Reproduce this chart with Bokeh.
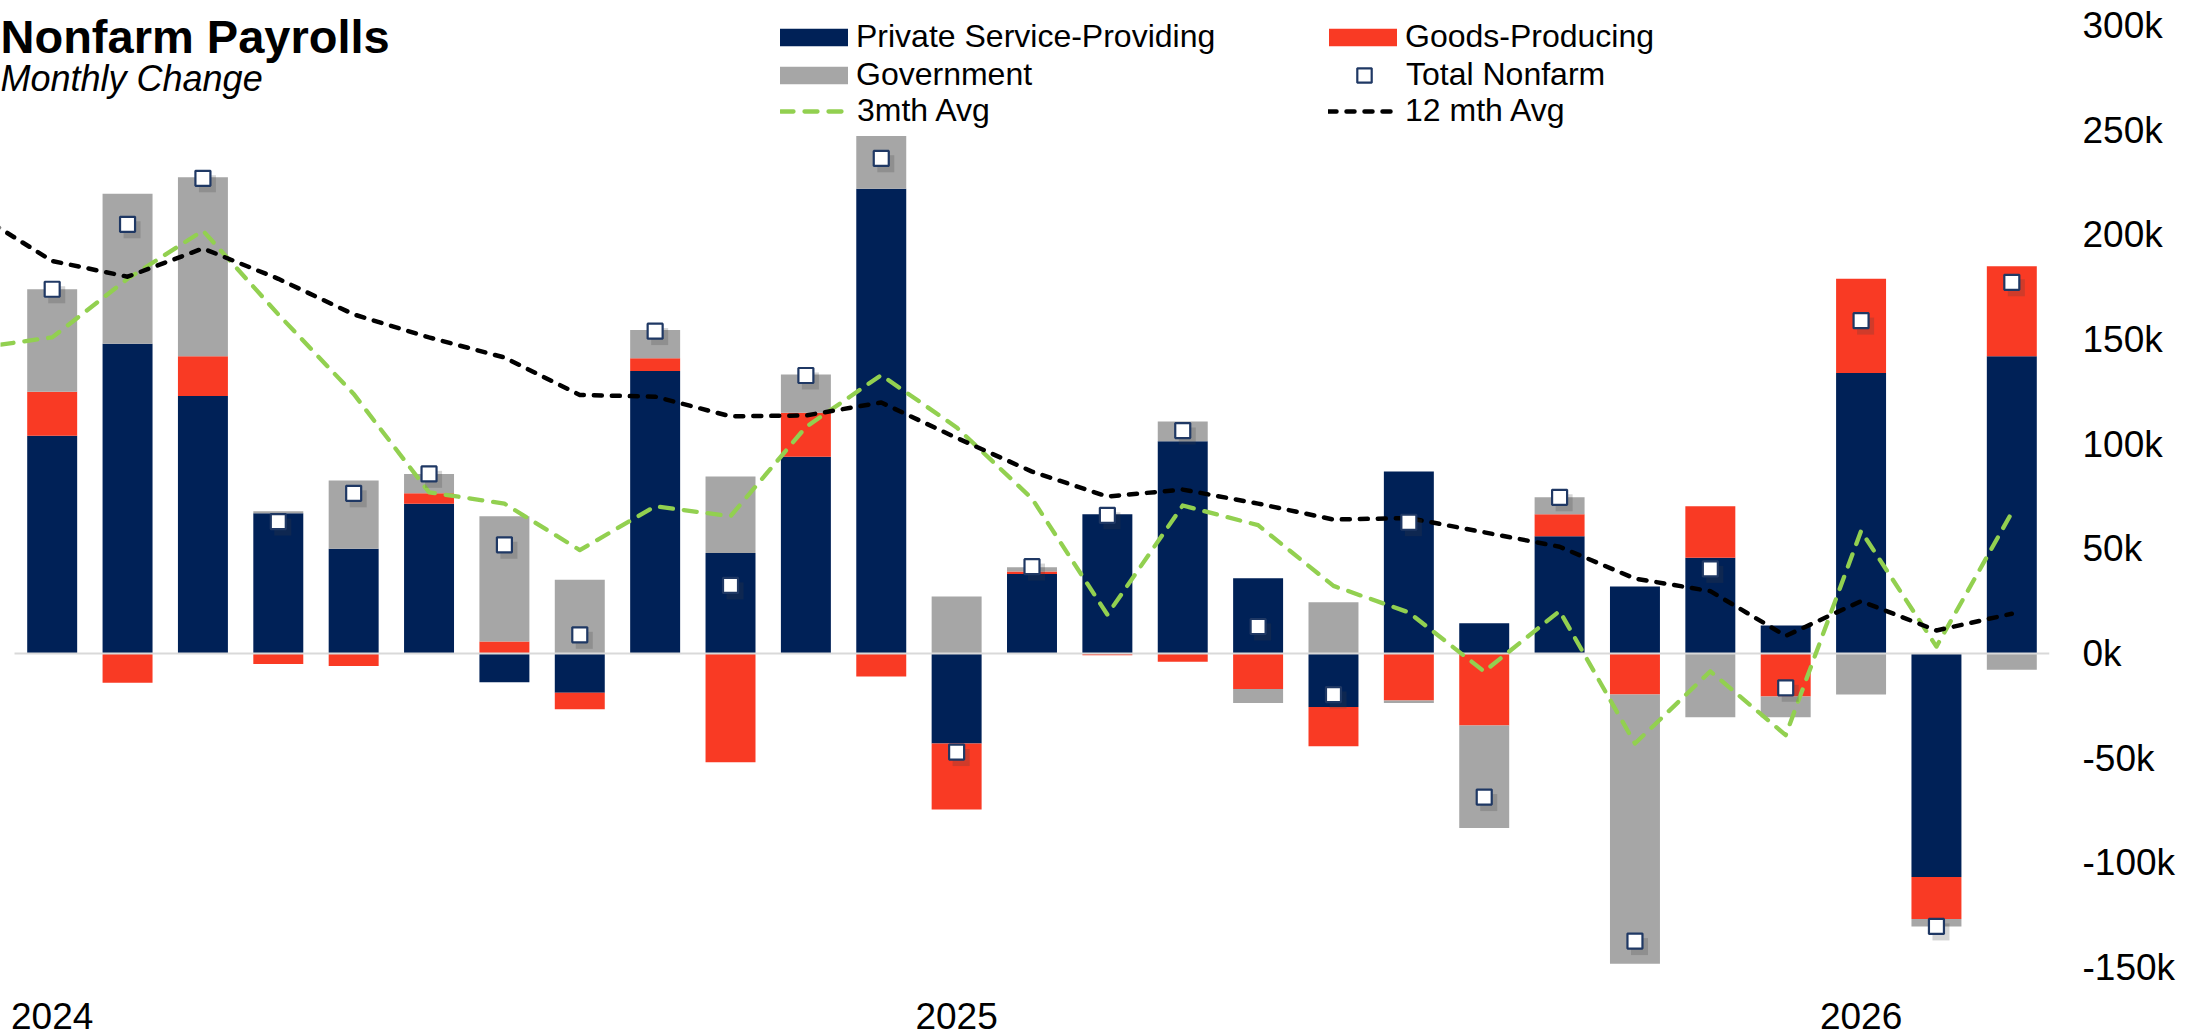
import numpy as np
from bokeh.plotting import figure
from bokeh.models import (ColumnDataSource, Range1d, FixedTicker, Label, LabelSet,
                          Legend, LegendItem)
from bokeh.core.properties import value
from bokeh.embed import file_html
from bokeh.resources import INLINE
from bokeh.transform import dodge

# ---------------- data (thousands of jobs, monthly change) ----------------
months = ["2024-01", "2024-02", "2024-03", "2024-04", "2024-05", "2024-06",
          "2024-07", "2024-08", "2024-09", "2024-10", "2024-11", "2024-12",
          "2025-01", "2025-02", "2025-03", "2025-04", "2025-05", "2025-06",
          "2025-07", "2025-08", "2025-09", "2025-10", "2025-11", "2025-12",
          "2026-01", "2026-02", "2026-03"]
private_service = [104, 148, 123, 67, 50, 71.5, -13.7, -18.8, 135, 48, 94, 222,
                   -43, 38, 66.5, 101.4, 36, -25.6, 87, 14.5, 56, 32, 45.7, 13.4,
                   134, -106.8, 142]
goods_producing = [21, -14, 19, -5, -6, 5, 5.7, -7.8, 6, -52, 21, -11,
                   -31.5, 1.2, -0.8, -4, -17, -18.7, -22.4, -34.4, 10.5, -19.6, 24.7, -20.5,
                   45, -20, 43]
government = [49, 71.6, 85.5, 1, 32.6, 9.3, 59.9, 35.2, 13.5, 36.6, 18.3, 25.2,
              27.2, 2, 0, 9.4, -6.7, 24.5, -1.2, -49, 8.2, -128.6, -30.4, -9.9,
              -19.6, -3.6, -7.8]
total_nonfarm = [174, 205, 227, 63, 76.5, 85.8, 51.9, 8.9, 154, 32.5, 132.8, 236.5,
                 -47.1, 41.5, 66, 106.5, 12.9, -19.6, 62.7, -68.6, 74.6, -137.4, 40.4, -16.4,
                 159, -130.4, 177.3]
# moving averages start one month earlier (Dec 2023), partly outside the view
line_months = ["2023-12"] + months
avg_3m = [146, 151, 179, 202, 162, 124, 77, 71.6, 49.4, 70.3, 65.6, 108.2,
          133, 108, 74, 18.6, 70.7, 61.3, 32.3, 19.6, -8.6, 20.3, -43, -8.5,
          -39, 58.5, 3.3, 67.3]
avg_12m = [210, 187.5, 180, 193.5, 179, 162, 151, 141.4, 123.5, 122.7, 113.3, 113.7,
           119.9, 103, 86.9, 75, 78.3, 71.6, 64, 64.7, 57.9, 51, 35.8, 29.8,
           8.4, 25, 11, 19]
year_ticks = [0, 12, 24]
year_labels = ["2024", "2025", "2026"]
y_ticks = [-150, -100, -50, 0, 50, 100, 150, 200, 250, 300]
y_tick_labels = ["-150k", "-100k", "-50k", "0k", "50k", "100k", "150k", "200k", "250k", "300k"]

# ---------------- styling ----------------
NAVY = "#002157"
RED = "#F93A24"
GRAY = "#A6A6A6"
GREEN = "#92D050"
MARKER_EDGE = "#1F3864"
FONT = "Liberation Sans"

x = np.arange(len(months))
lx = np.arange(-1, len(months))

# stacked bars: positives stack upward, negatives downward (Excel style)
vals = np.array([private_service, goods_producing, government], dtype=float)
pos = np.where(vals > 0, vals, 0.0)
neg = np.where(vals < 0, vals, 0.0)
pos_top = np.cumsum(pos, axis=0)
pos_bot = pos_top - pos
neg_bot = np.cumsum(neg, axis=0)
neg_top = neg_bot - neg
bottoms = np.where(vals >= 0, pos_bot, neg_top)
tops = np.where(vals >= 0, pos_top, neg_bot)

# geometry: the plotting frame covers the whole canvas except the right axis,
# so that title, legend and year labels (annotations) are not clipped.
W, H = 2197, 1036
RIGHT = 148
PLOT_L, PLOT_R = 14, 2049          # visible plot area (px)
PLOT_T, PLOT_B = 25, 967           # y = 300k ... -150k (px)
x_lo, x_hi = -0.5, 26.5
y_lo, y_hi = -150, 300
xpx = (PLOT_R - PLOT_L) / (x_hi - x_lo)
ypx = (PLOT_B - PLOT_T) / (y_hi - y_lo)
frame_w = W - RIGHT
xr = Range1d(x_lo - PLOT_L / xpx, x_hi + (frame_w - PLOT_R) / xpx)
yr = Range1d(y_lo - (H - PLOT_B) / ypx, y_hi + PLOT_T / ypx)

p = figure(width=W, height=H, x_range=xr, y_range=yr,
           toolbar_location=None, output_backend="svg", y_axis_location="right",
           min_border_left=0, min_border_right=RIGHT, min_border_top=0,
           min_border_bottom=0, title=None)
p.outline_line_color = None
p.background_fill_color = "white"
p.border_fill_color = "white"
p.grid.visible = False

bar_renderers = []
for i, col in enumerate([NAVY, RED, GRAY]):
    src = ColumnDataSource(dict(x=x, bottom=bottoms[i], top=tops[i]))
    r = p.vbar(x="x", bottom="bottom", top="top", width=0.663, source=src,
               fill_color=col, line_color=None)
    bar_renderers.append(r)

# zero line across the plot area
p.segment(x0=[x_lo], x1=[x_hi], y0=[0], y1=[0], line_color="#D9D9D9", line_width=2)

lsrc = ColumnDataSource(dict(x=lx, a3=avg_3m, a12=avg_12m))
r3 = p.line("x", "a3", source=lsrc, line_color=GREEN, line_width=4.3,
            line_dash="13 11", line_cap="round", line_join="round")
r12 = p.line("x", "a12", source=lsrc, line_color="black", line_width=4.5,
             line_dash="8 10", line_cap="round", line_join="round")

tsrc = ColumnDataSource(dict(x=x, total=total_nonfarm))
p.scatter(x=dodge("x", 0.06), y=dodge("total", -2.6), source=tsrc, marker="square",
          size=17, fill_color="#404040", fill_alpha=0.22, line_color=None)
rt = p.scatter("x", "total", source=tsrc, marker="square", size=15,
               fill_color="white", line_color=MARKER_EDGE, line_width=2.2)

# right axis
p.yaxis.ticker = FixedTicker(ticks=y_ticks)
p.yaxis.major_label_overrides = {t: l for t, l in zip(y_ticks, y_tick_labels)}
p.yaxis.axis_line_color = None
p.yaxis.major_tick_line_color = None
p.yaxis.minor_tick_line_color = None
p.yaxis.major_tick_out = 0
p.yaxis.major_tick_in = 0
p.yaxis.major_label_text_font = FONT
p.yaxis.major_label_text_font_size = "37px"
p.yaxis.major_label_text_color = "black"
p.yaxis.major_label_standoff = 33
p.xaxis.visible = False

# year labels below the bars (at the January bars)
ysrc = ColumnDataSource(dict(x=year_ticks, text=year_labels))
p.add_layout(LabelSet(x="x", y=H - 1015, y_units="screen", text="text", source=ysrc,
                      text_align="center", text_baseline="middle",
                      text_font=value(FONT), text_font_size=value("37px"),
                      text_color="black"))

# legend: one Legend per entry for exact placement


def add_legend(label, renderer, gx, gy_top, gw, gh, standoff):
    lg = Legend(items=[LegendItem(label=label, renderers=[renderer])],
                location=(gx, H - gy_top - 36), glyph_width=gw, glyph_height=gh,
                label_standoff=standoff, padding=0, margin=0, spacing=0,
                background_fill_alpha=0, border_line_alpha=0,
                label_text_font=FONT, label_text_font_size="32px",
                label_text_color="black", label_height=36)
    p.add_layout(lg, "center")


add_legend("Private Service-Providing", bar_renderers[0], 771, 19, 85, 22, 0)
add_legend("Government", bar_renderers[2], 771, 57, 85, 22, 0)
add_legend("3mth Avg", r3, 780, 93, 66, 36, 11)
add_legend("Goods-Producing", bar_renderers[1], 1320, 19, 85, 22, 0)
add_legend("Total Nonfarm", rt, 1345, 57, 38, 36, 23)
add_legend("12 mth Avg", r12, 1328, 93, 72, 36, 5)

# title & subtitle
p.add_layout(Label(x=0, y=H - 36, x_units="screen", y_units="screen",
                   text="Nonfarm Payrolls", text_font=FONT, text_font_size="47px",
                   text_font_style="bold", text_color="black", text_baseline="alphabetic"))
p.add_layout(Label(x=0, y=H - 78, x_units="screen", y_units="screen",
                   text="Monthly Change", text_font=FONT, text_font_size="36px",
                   text_font_style="italic", text_color="black", text_baseline="alphabetic"))

open("out.html", "w").write(file_html(p, INLINE))
